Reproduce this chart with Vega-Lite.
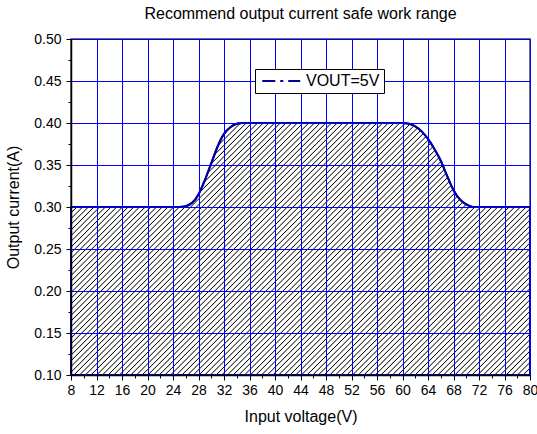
{
"$schema": "https://vega.github.io/schema/vega-lite/v6.json",
"width": 459, "height": 336,
"autosize": {"type": "none"},
"padding": {"left": 71, "top": 39, "right": 7, "bottom": 59},
"background": "white",
"title": {"text": "Recommend output current safe work range", "font": "Liberation Sans", "fontSize": 16, "fontWeight": "normal", "color": "#000", "offset": 10},
"config": {"view": {"stroke": "#444", "strokeWidth": 1.5}, "font": "Liberation Sans"},
"data": {"values": [
{"vin": 8, "iout": 0.3, "series": "VOUT=5V"},
{"vin": 12, "iout": 0.3, "series": "VOUT=5V"},
{"vin": 16, "iout": 0.3, "series": "VOUT=5V"},
{"vin": 20, "iout": 0.3, "series": "VOUT=5V"},
{"vin": 24, "iout": 0.3, "series": "VOUT=5V"},
{"vin": 25, "iout": 0.3, "series": "VOUT=5V"},
{"vin": 26, "iout": 0.301, "series": "VOUT=5V"},
{"vin": 27, "iout": 0.305, "series": "VOUT=5V"},
{"vin": 28, "iout": 0.315, "series": "VOUT=5V"},
{"vin": 29, "iout": 0.332, "series": "VOUT=5V"},
{"vin": 30, "iout": 0.352, "series": "VOUT=5V"},
{"vin": 31, "iout": 0.372, "series": "VOUT=5V"},
{"vin": 32, "iout": 0.387, "series": "VOUT=5V"},
{"vin": 33, "iout": 0.395, "series": "VOUT=5V"},
{"vin": 34, "iout": 0.399, "series": "VOUT=5V"},
{"vin": 35, "iout": 0.4, "series": "VOUT=5V"},
{"vin": 36, "iout": 0.4, "series": "VOUT=5V"},
{"vin": 40, "iout": 0.4, "series": "VOUT=5V"},
{"vin": 44, "iout": 0.4, "series": "VOUT=5V"},
{"vin": 48, "iout": 0.4, "series": "VOUT=5V"},
{"vin": 52, "iout": 0.4, "series": "VOUT=5V"},
{"vin": 56, "iout": 0.4, "series": "VOUT=5V"},
{"vin": 60, "iout": 0.4, "series": "VOUT=5V"},
{"vin": 61, "iout": 0.399, "series": "VOUT=5V"},
{"vin": 62, "iout": 0.396, "series": "VOUT=5V"},
{"vin": 63, "iout": 0.39, "series": "VOUT=5V"},
{"vin": 64, "iout": 0.381, "series": "VOUT=5V"},
{"vin": 65, "iout": 0.369, "series": "VOUT=5V"},
{"vin": 66, "iout": 0.355, "series": "VOUT=5V"},
{"vin": 67, "iout": 0.337, "series": "VOUT=5V"},
{"vin": 68, "iout": 0.32, "series": "VOUT=5V"},
{"vin": 69, "iout": 0.309, "series": "VOUT=5V"},
{"vin": 70, "iout": 0.303, "series": "VOUT=5V"},
{"vin": 71, "iout": 0.3, "series": "VOUT=5V"},
{"vin": 72, "iout": 0.3, "series": "VOUT=5V"},
{"vin": 76, "iout": 0.3, "series": "VOUT=5V"},
{"vin": 80, "iout": 0.3, "series": "VOUT=5V"}
]},
"encoding": {
 "x": {"field": "vin", "type": "quantitative", "scale": {"domain": [8, 80], "nice": false},
  "axis": {"title": "Input voltage(V)", "values": [8,10,12,14,16,18,20,22,24,26,28,30,32,34,36,38,40,42,44,46,48,50,52,54,56,58,60,62,64,66,68,70,72,74,76,78,80],
   "labelExpr": "datum.value % 4 == 0 ? datum.label : ''",
   "tickSize": {"condition": {"test": "datum.value % 4 != 0", "value": 3}, "value": 5},
   "gridOpacity": {"condition": {"test": "datum.value % 4 != 0", "value": 0}, "value": 1},
   "grid": true, "gridColor": "#0000ff", "gridWidth": 1,
   "domainColor": "#000", "domainWidth": 1.5, "tickColor": "#000", "tickWidth": 1,
   "labelFont": "Liberation Sans", "labelFontSize": 14, "labelColor": "#000", "labelPadding": 3, "labelFlush": false, "labelOverlap": false,
   "titleFont": "Liberation Sans", "titleFontSize": 16, "titleFontWeight": "normal", "titleColor": "#000", "titlePadding": 11, "zindex": 1}},
 "y": {"field": "iout", "type": "quantitative", "scale": {"domain": [0.1, 0.5], "nice": false, "zero": false},
  "axis": {"title": "Output current(A)", "values": [0.1,0.125,0.15,0.175,0.2,0.225,0.25,0.275,0.3,0.325,0.35,0.375,0.4,0.425,0.45,0.475,0.5],
   "format": ".2f",
   "labelExpr": "round(datum.value*1000) % 50 == 0 ? datum.label : ''",
   "tickSize": {"condition": {"test": "round(datum.value*1000) % 50 != 0", "value": 3}, "value": 5},
   "gridOpacity": {"condition": {"test": "round(datum.value*1000) % 50 != 0", "value": 0}, "value": 1},
   "grid": true, "gridColor": "#0000ff", "gridWidth": 1,
   "domainColor": "#000", "domainWidth": 1.5, "tickColor": "#000", "tickWidth": 1,
   "labelFont": "Liberation Sans", "labelFontSize": 14, "labelColor": "#000", "labelPadding": 5, "labelOverlap": false, "labelFlush": false,
   "titleFont": "Liberation Sans", "titleFontSize": 16, "titleFontWeight": "normal", "titleColor": "#000", "titlePadding": 12, "zindex": 1}}
},
"layer": [
 {"mark": {"type": "area", "interpolate": "monotone", "stroke": "#0000b0", "strokeWidth": 2,
   "fill": {"gradient": "linear", "x1": 0, "y1": 0, "x2": 1.19, "y2": 0.653, "stops": [
{"offset":0.005,"color":"#fff"},{"offset":0.0065,"color":"#000"},{"offset":0.008,"color":"#fff"},
{"offset":0.013,"color":"#fff"},{"offset":0.0145,"color":"#000"},{"offset":0.016,"color":"#fff"},
{"offset":0.021,"color":"#fff"},{"offset":0.0225,"color":"#000"},{"offset":0.024,"color":"#fff"},
{"offset":0.029,"color":"#fff"},{"offset":0.0305,"color":"#000"},{"offset":0.032,"color":"#fff"},
{"offset":0.037,"color":"#fff"},{"offset":0.0385,"color":"#000"},{"offset":0.04,"color":"#fff"},
{"offset":0.045,"color":"#fff"},{"offset":0.0465,"color":"#000"},{"offset":0.048,"color":"#fff"},
{"offset":0.053,"color":"#fff"},{"offset":0.0545,"color":"#000"},{"offset":0.056,"color":"#fff"},
{"offset":0.061,"color":"#fff"},{"offset":0.0625,"color":"#000"},{"offset":0.064,"color":"#fff"},
{"offset":0.069,"color":"#fff"},{"offset":0.0705,"color":"#000"},{"offset":0.072,"color":"#fff"},
{"offset":0.077,"color":"#fff"},{"offset":0.0785,"color":"#000"},{"offset":0.08,"color":"#fff"},
{"offset":0.085,"color":"#fff"},{"offset":0.0865,"color":"#000"},{"offset":0.088,"color":"#fff"},
{"offset":0.093,"color":"#fff"},{"offset":0.0945,"color":"#000"},{"offset":0.096,"color":"#fff"},
{"offset":0.101,"color":"#fff"},{"offset":0.1025,"color":"#000"},{"offset":0.104,"color":"#fff"},
{"offset":0.109,"color":"#fff"},{"offset":0.1105,"color":"#000"},{"offset":0.112,"color":"#fff"},
{"offset":0.117,"color":"#fff"},{"offset":0.1185,"color":"#000"},{"offset":0.12,"color":"#fff"},
{"offset":0.125,"color":"#fff"},{"offset":0.1265,"color":"#000"},{"offset":0.128,"color":"#fff"},
{"offset":0.133,"color":"#fff"},{"offset":0.1345,"color":"#000"},{"offset":0.136,"color":"#fff"},
{"offset":0.141,"color":"#fff"},{"offset":0.1425,"color":"#000"},{"offset":0.144,"color":"#fff"},
{"offset":0.149,"color":"#fff"},{"offset":0.1505,"color":"#000"},{"offset":0.152,"color":"#fff"},
{"offset":0.157,"color":"#fff"},{"offset":0.1585,"color":"#000"},{"offset":0.16,"color":"#fff"},
{"offset":0.165,"color":"#fff"},{"offset":0.1665,"color":"#000"},{"offset":0.168,"color":"#fff"},
{"offset":0.173,"color":"#fff"},{"offset":0.1745,"color":"#000"},{"offset":0.176,"color":"#fff"},
{"offset":0.181,"color":"#fff"},{"offset":0.1825,"color":"#000"},{"offset":0.184,"color":"#fff"},
{"offset":0.189,"color":"#fff"},{"offset":0.1905,"color":"#000"},{"offset":0.192,"color":"#fff"},
{"offset":0.197,"color":"#fff"},{"offset":0.1985,"color":"#000"},{"offset":0.2,"color":"#fff"},
{"offset":0.205,"color":"#fff"},{"offset":0.2065,"color":"#000"},{"offset":0.208,"color":"#fff"},
{"offset":0.213,"color":"#fff"},{"offset":0.2145,"color":"#000"},{"offset":0.216,"color":"#fff"},
{"offset":0.221,"color":"#fff"},{"offset":0.2225,"color":"#000"},{"offset":0.224,"color":"#fff"},
{"offset":0.229,"color":"#fff"},{"offset":0.2305,"color":"#000"},{"offset":0.232,"color":"#fff"},
{"offset":0.237,"color":"#fff"},{"offset":0.2385,"color":"#000"},{"offset":0.24,"color":"#fff"},
{"offset":0.245,"color":"#fff"},{"offset":0.2465,"color":"#000"},{"offset":0.248,"color":"#fff"},
{"offset":0.253,"color":"#fff"},{"offset":0.2545,"color":"#000"},{"offset":0.256,"color":"#fff"},
{"offset":0.261,"color":"#fff"},{"offset":0.2625,"color":"#000"},{"offset":0.264,"color":"#fff"},
{"offset":0.269,"color":"#fff"},{"offset":0.2705,"color":"#000"},{"offset":0.272,"color":"#fff"},
{"offset":0.277,"color":"#fff"},{"offset":0.2785,"color":"#000"},{"offset":0.28,"color":"#fff"},
{"offset":0.285,"color":"#fff"},{"offset":0.2865,"color":"#000"},{"offset":0.288,"color":"#fff"},
{"offset":0.293,"color":"#fff"},{"offset":0.2945,"color":"#000"},{"offset":0.296,"color":"#fff"},
{"offset":0.301,"color":"#fff"},{"offset":0.3025,"color":"#000"},{"offset":0.304,"color":"#fff"},
{"offset":0.309,"color":"#fff"},{"offset":0.3105,"color":"#000"},{"offset":0.312,"color":"#fff"},
{"offset":0.317,"color":"#fff"},{"offset":0.3185,"color":"#000"},{"offset":0.32,"color":"#fff"},
{"offset":0.325,"color":"#fff"},{"offset":0.3265,"color":"#000"},{"offset":0.328,"color":"#fff"},
{"offset":0.333,"color":"#fff"},{"offset":0.3345,"color":"#000"},{"offset":0.336,"color":"#fff"},
{"offset":0.341,"color":"#fff"},{"offset":0.3425,"color":"#000"},{"offset":0.344,"color":"#fff"},
{"offset":0.349,"color":"#fff"},{"offset":0.3505,"color":"#000"},{"offset":0.352,"color":"#fff"},
{"offset":0.357,"color":"#fff"},{"offset":0.3585,"color":"#000"},{"offset":0.36,"color":"#fff"},
{"offset":0.365,"color":"#fff"},{"offset":0.3665,"color":"#000"},{"offset":0.368,"color":"#fff"},
{"offset":0.373,"color":"#fff"},{"offset":0.3745,"color":"#000"},{"offset":0.376,"color":"#fff"},
{"offset":0.381,"color":"#fff"},{"offset":0.3825,"color":"#000"},{"offset":0.384,"color":"#fff"},
{"offset":0.389,"color":"#fff"},{"offset":0.3905,"color":"#000"},{"offset":0.392,"color":"#fff"},
{"offset":0.397,"color":"#fff"},{"offset":0.3985,"color":"#000"},{"offset":0.4,"color":"#fff"},
{"offset":0.405,"color":"#fff"},{"offset":0.4065,"color":"#000"},{"offset":0.408,"color":"#fff"},
{"offset":0.413,"color":"#fff"},{"offset":0.4145,"color":"#000"},{"offset":0.416,"color":"#fff"},
{"offset":0.421,"color":"#fff"},{"offset":0.4225,"color":"#000"},{"offset":0.424,"color":"#fff"},
{"offset":0.429,"color":"#fff"},{"offset":0.4305,"color":"#000"},{"offset":0.432,"color":"#fff"},
{"offset":0.437,"color":"#fff"},{"offset":0.4385,"color":"#000"},{"offset":0.44,"color":"#fff"},
{"offset":0.445,"color":"#fff"},{"offset":0.4465,"color":"#000"},{"offset":0.448,"color":"#fff"},
{"offset":0.453,"color":"#fff"},{"offset":0.4545,"color":"#000"},{"offset":0.456,"color":"#fff"},
{"offset":0.461,"color":"#fff"},{"offset":0.4625,"color":"#000"},{"offset":0.464,"color":"#fff"},
{"offset":0.469,"color":"#fff"},{"offset":0.4705,"color":"#000"},{"offset":0.472,"color":"#fff"},
{"offset":0.477,"color":"#fff"},{"offset":0.4785,"color":"#000"},{"offset":0.48,"color":"#fff"},
{"offset":0.485,"color":"#fff"},{"offset":0.4865,"color":"#000"},{"offset":0.488,"color":"#fff"},
{"offset":0.493,"color":"#fff"},{"offset":0.4945,"color":"#000"},{"offset":0.496,"color":"#fff"},
{"offset":0.501,"color":"#fff"},{"offset":0.5025,"color":"#000"},{"offset":0.504,"color":"#fff"},
{"offset":0.509,"color":"#fff"},{"offset":0.5105,"color":"#000"},{"offset":0.512,"color":"#fff"},
{"offset":0.517,"color":"#fff"},{"offset":0.5185,"color":"#000"},{"offset":0.52,"color":"#fff"},
{"offset":0.525,"color":"#fff"},{"offset":0.5265,"color":"#000"},{"offset":0.528,"color":"#fff"},
{"offset":0.533,"color":"#fff"},{"offset":0.5345,"color":"#000"},{"offset":0.536,"color":"#fff"},
{"offset":0.541,"color":"#fff"},{"offset":0.5425,"color":"#000"},{"offset":0.544,"color":"#fff"},
{"offset":0.549,"color":"#fff"},{"offset":0.5505,"color":"#000"},{"offset":0.552,"color":"#fff"},
{"offset":0.557,"color":"#fff"},{"offset":0.5585,"color":"#000"},{"offset":0.56,"color":"#fff"},
{"offset":0.565,"color":"#fff"},{"offset":0.5665,"color":"#000"},{"offset":0.568,"color":"#fff"},
{"offset":0.573,"color":"#fff"},{"offset":0.5745,"color":"#000"},{"offset":0.576,"color":"#fff"},
{"offset":0.581,"color":"#fff"},{"offset":0.5825,"color":"#000"},{"offset":0.584,"color":"#fff"},
{"offset":0.589,"color":"#fff"},{"offset":0.5905,"color":"#000"},{"offset":0.592,"color":"#fff"},
{"offset":0.597,"color":"#fff"},{"offset":0.5985,"color":"#000"},{"offset":0.6,"color":"#fff"},
{"offset":0.605,"color":"#fff"},{"offset":0.6065,"color":"#000"},{"offset":0.608,"color":"#fff"},
{"offset":0.613,"color":"#fff"},{"offset":0.6145,"color":"#000"},{"offset":0.616,"color":"#fff"},
{"offset":0.621,"color":"#fff"},{"offset":0.6225,"color":"#000"},{"offset":0.624,"color":"#fff"},
{"offset":0.629,"color":"#fff"},{"offset":0.6305,"color":"#000"},{"offset":0.632,"color":"#fff"},
{"offset":0.637,"color":"#fff"},{"offset":0.6385,"color":"#000"},{"offset":0.64,"color":"#fff"},
{"offset":0.645,"color":"#fff"},{"offset":0.6465,"color":"#000"},{"offset":0.648,"color":"#fff"},
{"offset":0.653,"color":"#fff"},{"offset":0.6545,"color":"#000"},{"offset":0.656,"color":"#fff"},
{"offset":0.661,"color":"#fff"},{"offset":0.6625,"color":"#000"},{"offset":0.664,"color":"#fff"},
{"offset":0.669,"color":"#fff"},{"offset":0.6705,"color":"#000"},{"offset":0.672,"color":"#fff"},
{"offset":0.677,"color":"#fff"},{"offset":0.6785,"color":"#000"},{"offset":0.68,"color":"#fff"},
{"offset":0.685,"color":"#fff"},{"offset":0.6865,"color":"#000"},{"offset":0.688,"color":"#fff"},
{"offset":0.693,"color":"#fff"},{"offset":0.6945,"color":"#000"},{"offset":0.696,"color":"#fff"},
{"offset":0.701,"color":"#fff"},{"offset":0.7025,"color":"#000"},{"offset":0.704,"color":"#fff"},
{"offset":0.709,"color":"#fff"},{"offset":0.7105,"color":"#000"},{"offset":0.712,"color":"#fff"},
{"offset":0.717,"color":"#fff"},{"offset":0.7185,"color":"#000"},{"offset":0.72,"color":"#fff"},
{"offset":0.725,"color":"#fff"},{"offset":0.7265,"color":"#000"},{"offset":0.728,"color":"#fff"},
{"offset":0.733,"color":"#fff"},{"offset":0.7345,"color":"#000"},{"offset":0.736,"color":"#fff"},
{"offset":0.741,"color":"#fff"},{"offset":0.7425,"color":"#000"},{"offset":0.744,"color":"#fff"},
{"offset":0.749,"color":"#fff"},{"offset":0.7505,"color":"#000"},{"offset":0.752,"color":"#fff"},
{"offset":0.757,"color":"#fff"},{"offset":0.7585,"color":"#000"},{"offset":0.76,"color":"#fff"},
{"offset":0.765,"color":"#fff"},{"offset":0.7665,"color":"#000"},{"offset":0.768,"color":"#fff"},
{"offset":0.773,"color":"#fff"},{"offset":0.7745,"color":"#000"},{"offset":0.776,"color":"#fff"},
{"offset":0.781,"color":"#fff"},{"offset":0.7825,"color":"#000"},{"offset":0.784,"color":"#fff"},
{"offset":0.789,"color":"#fff"},{"offset":0.7905,"color":"#000"},{"offset":0.792,"color":"#fff"},
{"offset":0.797,"color":"#fff"},{"offset":0.7985,"color":"#000"},{"offset":0.8,"color":"#fff"},
{"offset":0.805,"color":"#fff"},{"offset":0.8065,"color":"#000"},{"offset":0.808,"color":"#fff"},
{"offset":0.813,"color":"#fff"},{"offset":0.8145,"color":"#000"},{"offset":0.816,"color":"#fff"},
{"offset":0.821,"color":"#fff"},{"offset":0.8225,"color":"#000"},{"offset":0.824,"color":"#fff"},
{"offset":0.829,"color":"#fff"},{"offset":0.8305,"color":"#000"},{"offset":0.832,"color":"#fff"},
{"offset":0.837,"color":"#fff"},{"offset":0.8385,"color":"#000"},{"offset":0.84,"color":"#fff"},
{"offset":0.845,"color":"#fff"},{"offset":0.8465,"color":"#000"},{"offset":0.848,"color":"#fff"},
{"offset":0.853,"color":"#fff"},{"offset":0.8545,"color":"#000"},{"offset":0.856,"color":"#fff"},
{"offset":0.861,"color":"#fff"},{"offset":0.8625,"color":"#000"},{"offset":0.864,"color":"#fff"},
{"offset":0.869,"color":"#fff"},{"offset":0.8705,"color":"#000"},{"offset":0.872,"color":"#fff"},
{"offset":0.877,"color":"#fff"},{"offset":0.8785,"color":"#000"},{"offset":0.88,"color":"#fff"},
{"offset":0.885,"color":"#fff"},{"offset":0.8865,"color":"#000"},{"offset":0.888,"color":"#fff"},
{"offset":0.893,"color":"#fff"},{"offset":0.8945,"color":"#000"},{"offset":0.896,"color":"#fff"},
{"offset":0.901,"color":"#fff"},{"offset":0.9025,"color":"#000"},{"offset":0.904,"color":"#fff"},
{"offset":0.909,"color":"#fff"},{"offset":0.9105,"color":"#000"},{"offset":0.912,"color":"#fff"},
{"offset":0.917,"color":"#fff"},{"offset":0.9185,"color":"#000"},{"offset":0.92,"color":"#fff"},
{"offset":0.925,"color":"#fff"},{"offset":0.9265,"color":"#000"},{"offset":0.928,"color":"#fff"},
{"offset":0.933,"color":"#fff"},{"offset":0.9345,"color":"#000"},{"offset":0.936,"color":"#fff"},
{"offset":0.941,"color":"#fff"},{"offset":0.9425,"color":"#000"},{"offset":0.944,"color":"#fff"},
{"offset":0.949,"color":"#fff"},{"offset":0.9505,"color":"#000"},{"offset":0.952,"color":"#fff"},
{"offset":0.957,"color":"#fff"},{"offset":0.9585,"color":"#000"},{"offset":0.96,"color":"#fff"},
{"offset":0.965,"color":"#fff"},{"offset":0.9665,"color":"#000"},{"offset":0.968,"color":"#fff"},
{"offset":0.973,"color":"#fff"},{"offset":0.9745,"color":"#000"},{"offset":0.976,"color":"#fff"},
{"offset":0.981,"color":"#fff"},{"offset":0.9825,"color":"#000"},{"offset":0.984,"color":"#fff"},
{"offset":0.989,"color":"#fff"},{"offset":0.9905,"color":"#000"},{"offset":0.992,"color":"#fff"},
{"offset":0.997,"color":"#fff"},{"offset":0.9985,"color":"#000"},{"offset":1,"color":"#fff"}
   ]}},
  "encoding": {"y2": {"datum": 0.1}}},
 {"mark": {"type": "line", "interpolate": "monotone", "strokeWidth": 2},
  "encoding": {"color": {"field": "series", "type": "nominal", "scale": {"range": ["#00009c"]},
   "legend": {"title": null, "orient": "none", "legendX": 184, "legendY": 30, "symbolType": "M-1,0H7", "symbolSize": 90, "symbolStrokeWidth": 2, "symbolDash": [13, 5, 3, 5],
    "labelFont": "Liberation Sans", "labelFontSize": 16, "labelColor": "#000", "labelOffset": 31, "strokeColor": "#000", "fillColor": "#fff", "padding": 4, "zindex": 2}}}}
]
}
